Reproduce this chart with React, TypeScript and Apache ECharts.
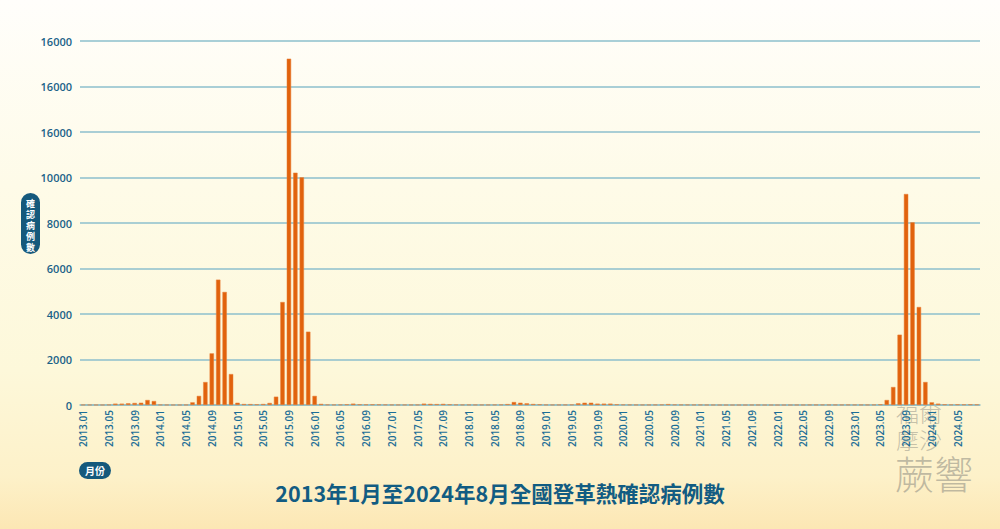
import React, { useEffect, useRef } from "react";
import * as echarts from "echarts";

const years = [2013, 2014, 2015, 2016, 2017, 2018, 2019, 2020, 2021, 2022, 2023, 2024];
const cases2013 = [10, 8, 6, 5, 15, 60, 60, 75, 90, 100, 220, 175];
const cases2014 = [15, 8, 5, 5, 10, 117, 400, 1010, 2270, 5510, 4970, 1360];
const cases2015 = [100, 45, 40, 30, 45, 90, 366, 4527, 15223, 10212, 10007, 3223];
const cases2016 = [400, 50, 20, 15, 20, 30, 60, 30, 25, 30, 25, 20];
const cases2017 = [15, 10, 10, 10, 15, 60, 50, 40, 50, 30, 20, 15];
const cases2018 = [15, 10, 10, 10, 15, 20, 40, 130, 100, 75, 45, 30];
const cases2019 = [15, 10, 10, 15, 20, 75, 100, 100, 60, 60, 60, 30];
const cases2020 = [20, 15, 10, 10, 10, 15, 20, 40, 20, 15, 15, 10];
const cases2021 = [10, 5, 5, 0, 0, 0, 0, 0, 5, 5, 0, 0];
const cases2022 = [0, 0, 0, 5, 5, 10, 10, 15, 10, 10, 10, 15];
const cases2023 = [10, 10, 10, 15, 30, 220, 791, 3091, 9275, 8029, 4308, 1011];
const cases2024 = [117, 60, 30, 20, 30, 25, 30, 25];

const yTickLabels = ["0", "2000", "4000", "6000", "8000", "10000", "16000", "16000", "16000"];

const titleText = "2013年1月至2024年8月全國登革熱確認病例數";
const yAxisName = "確認病例數";
const xAxisName = "月份";
const watermarkSmall = ["福爾", "摩沙"];
const watermarkLarge = "蕨響";

const allCases = [
  ...cases2013, ...cases2014, ...cases2015, ...cases2016, ...cases2017, ...cases2018,
  ...cases2019, ...cases2020, ...cases2021, ...cases2022, ...cases2023, ...cases2024,
];

const categories: string[] = [];
years.forEach((y) => {
  for (let m = 1; m <= 12; m++) {
    if (categories.length < allCases.length) {
      categories.push(`${y}.${m < 10 ? "0" + m : m}`);
    }
  }
});

const BLUE = "#15597c";
const FONT = "'Open Sans', 'Noto Sans', sans-serif";
const CJK = "'Noto Sans CJK TC', 'Noto Sans', sans-serif";

export default function App() {
  const ref = useRef<HTMLDivElement>(null);
  useEffect(() => {
    if (!ref.current) return;
    const chart = echarts.init(ref.current, undefined, { renderer: "svg" });
    const yNameChars = yAxisName.split("").map((ch, i) => ({
      type: "text",
      x: 30.5,
      y: 203 + i * 11.2,
      style: {
        text: ch,
        fill: "#ffffff",
        font: `bold 9px ${CJK}`,
        align: "center",
        verticalAlign: "middle",
      },
    }));
    chart.setOption({
      animation: false,
      backgroundColor: "transparent",
      grid: { left: 80, right: 20, top: 41, bottom: 124, containLabel: false },
      xAxis: {
        type: "category",
        data: categories,
        boundaryGap: true,
        axisLine: { show: true, lineStyle: { color: "#8fc0c8", width: 1.5 } },
        axisTick: { show: false },
        axisLabel: {
          interval: 3,
          rotate: 90,
          color: "#1a6d96",
          fontSize: 10,
          fontFamily: FONT,
          fontWeight: 600,
          margin: 5,
        },
      },
      yAxis: {
        type: "value",
        min: 0,
        max: 16000,
        interval: 2000,
        axisLine: { show: false },
        axisTick: { show: false },
        splitLine: { lineStyle: { color: "#8dbfcc", width: 1.5 } },
        axisLabel: {
          color: "#1a6288",
          fontSize: 11,
          fontFamily: FONT,
          fontWeight: 600,
          margin: 8,
          formatter: (v: number) => yTickLabels[Math.round(v / 2000)],
        },
      },
      series: [
        {
          type: "bar",
          data: allCases,
          barCategoryGap: "32%",
          itemStyle: { color: "#e1620d", borderColor: "#e8803c", borderWidth: 0.5 },
        },
      ],
      graphic: [
        {
          type: "rect",
          shape: { x: 21, y: 193, width: 19, height: 61, r: 9.5 },
          style: { fill: BLUE },
        },
        ...yNameChars,
        {
          type: "rect",
          shape: { x: 79, y: 462, width: 32, height: 17, r: 8.5 },
          style: { fill: BLUE },
        },
        {
          type: "text",
          x: 95,
          y: 470.5,
          style: {
            text: xAxisName,
            fill: "#ffffff",
            font: `bold 10px ${CJK}`,
            align: "center",
            verticalAlign: "middle",
          },
        },
        {
          type: "text",
          x: 500,
          y: 492,
          style: {
            text: titleText,
            fill: "#125c82",
            font: `bold 21.5px ${CJK}`,
            align: "center",
            verticalAlign: "middle",
          },
        },
        {
          type: "text",
          x: 896,
          y: 398,
          style: {
            text: watermarkSmall.join("\n"),
            fill: "rgba(150,148,135,0.55)",
            font: `300 23px ${CJK}`,
            lineHeight: 27,
            align: "left",
            verticalAlign: "top",
          },
        },
        {
          type: "text",
          x: 895,
          y: 452,
          style: {
            text: watermarkLarge,
            fill: "rgba(150,148,135,0.6)",
            font: `300 39px ${CJK}`,
            align: "left",
            verticalAlign: "top",
          },
        },
      ],
    });
    return () => chart.dispose();
  }, []);
  return (
    <div
      style={{
        position: "absolute",
        left: 0,
        top: 0,
        width: 1000,
        height: 529,
        background:
          "linear-gradient(180deg, #fffefb 0%, #fefbe8 35%, #fdf8da 70%, #fdf1c9 90%, #fce7b4 100%)",
      }}
    >
      <div ref={ref} style={{ width: 1000, height: 529 }} />
    </div>
  );
}
